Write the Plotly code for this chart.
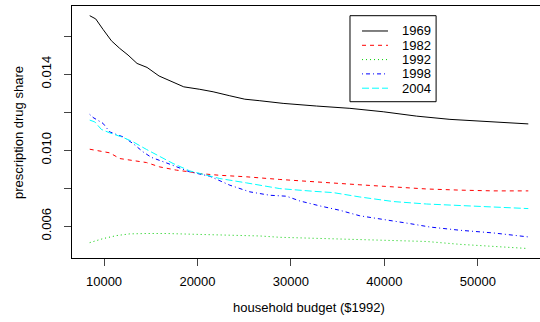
import plotly.graph_objects as go

# ---- data ----
budget_1969 = [8469, 9111, 9893, 10792, 11681, 12570, 13533, 14604, 15889, 17217, 18534, 20247,
               21671, 23459, 25065, 26671, 29166, 32742, 36307, 39873, 43449, 47015, 50580, 55398]
share_1969 = [0.01707, 0.01690, 0.01635, 0.01575, 0.01535, 0.01500, 0.01456, 0.01435, 0.01390,
              0.01363, 0.01333, 0.01320, 0.01307, 0.01286, 0.01268, 0.01260, 0.01246, 0.01232,
              0.01220, 0.01202, 0.01179, 0.01162, 0.01151, 0.01138]

budget_1982 = [8469, 9540, 10610, 11681, 13105, 14540, 15964, 17752, 19176, 20247, 22388, 25247,
               28812, 32378, 37378, 40943, 44519, 48085, 51650, 55398]
share_1982 = [0.01005, 0.00996, 0.00986, 0.00956, 0.00944, 0.00935, 0.00912, 0.00895, 0.00886,
              0.00877, 0.00868, 0.00860, 0.00846, 0.00833, 0.00818, 0.00807, 0.00796, 0.00790,
              0.00786, 0.00786]

budget_1992 = [8469, 9893, 11328, 12752, 14540, 16681, 19529, 23105, 26671, 28812, 32378, 37378,
               40943, 44519, 48085, 51650, 55398]
share_1992 = [0.00514, 0.00535, 0.00551, 0.00560, 0.00562, 0.00562, 0.00558, 0.00553, 0.00549,
              0.00542, 0.00537, 0.00530, 0.00526, 0.00520, 0.00505, 0.00495, 0.00483]

budget_1998 = [8469, 8822, 9893, 10610, 12034, 13105, 14176, 15075, 16681, 18105, 19176, 21317,
               23459, 25600, 27741, 29529, 30953, 33094, 35235, 37378, 40590, 42731, 44873,
               48085, 51650, 55398]
share_1998 = [0.01188, 0.01172, 0.01141, 0.01096, 0.01070, 0.01035, 0.00991, 0.00962, 0.00933,
              0.00904, 0.00886, 0.00863, 0.00816, 0.00781, 0.00763, 0.00758, 0.00733, 0.00707,
              0.00684, 0.00655, 0.00632, 0.00614, 0.00596, 0.00579, 0.00565, 0.00544]

budget_2004 = [8469, 9004, 9722, 10610, 12034, 13105, 14540, 15964, 17388, 19176, 20247, 22388,
               25247, 28812, 32378, 34520, 37378, 40943, 44519, 48085, 51650, 55398]
share_2004 = [0.01158, 0.01149, 0.01109, 0.01091, 0.01067, 0.01044, 0.01004, 0.00965, 0.00930,
              0.00891, 0.00877, 0.00851, 0.00828, 0.00798, 0.00784, 0.00777, 0.00754, 0.00730,
              0.00717, 0.00709, 0.00702, 0.00693]

years = ["1969", "1982", "1992", "1998", "2004"]
x_ticks = [10000, 20000, 30000, 40000, 50000]
y_ticks = [0.006, 0.008, 0.010, 0.012, 0.014, 0.016]
y_ticklabels = ["0.006", "", "0.010", "", "0.014", ""]
x_title = "household budget ($1992)"
y_title = "prescription drug share"

# ---- styles ----
colors = ["#000000", "#FF0000", "#00CD00", "#0000FF", "#00FFFF"]
dashes = ["solid", "4px,4px", "1px,3px", "1px,3px,4px,3px", "7px,3px"]
FONT = "Liberation Sans, Arial, Helvetica, sans-serif"

series = [(budget_1969, share_1969), (budget_1982, share_1982), (budget_1992, share_1992),
          (budget_1998, share_1998), (budget_2004, share_2004)]

fig = go.Figure()
for (bx, sy), name, c, d in zip(series, years, colors, dashes):
    fig.add_trace(go.Scatter(x=bx, y=sy, mode="lines", name=name,
                             line=dict(color=c, width=1, dash=d), showlegend=False))

# manual legend (R-style)
L, R = 0.594, 0.778
fig.add_shape(type="rect", xref="paper", yref="paper", x0=L, x1=R, y0=0.6202, y1=0.9615,
              line=dict(color="#000000", width=1), fillcolor="white", layer="above")
row_y = [0.9008, 0.8440, 0.7873, 0.7306, 0.6738]
for name, c, d, ry in zip(years, colors, dashes, row_y):
    fig.add_shape(type="line", xref="paper", yref="paper", x0=0.6197, x1=0.6752, y0=ry, y1=ry,
                  line=dict(color=c, width=1, dash=d), layer="above")
    fig.add_annotation(text=name, xref="paper", yref="paper", x=0.7009, y=ry,
                       xanchor="left", yanchor="middle", showarrow=False,
                       font=dict(family=FONT, size=13, color="#000000"))

# axis titles (R-style placement)
fig.add_annotation(text=x_title, xref="paper", yref="paper", x=0.5064, y=-0.1984,
                   xanchor="center", yanchor="middle", showarrow=False,
                   font=dict(family=FONT, size=13, color="#000000"))
fig.add_annotation(text=y_title, xref="paper", yref="paper", x=-0.1154, y=0.5,
                   xanchor="center", yanchor="middle", textangle=-90, showarrow=False,
                   font=dict(family=FONT, size=13, color="#000000"))

fig.update_layout(
    width=540, height=322,
    margin=dict(l=72, r=0, t=6, b=64, autoexpand=False),
    paper_bgcolor="white", plot_bgcolor="white",
    font=dict(family=FONT, size=13, color="#000000"),
    showlegend=False,
    xaxis=dict(range=[6574, 56650], tickvals=x_ticks, ticktext=[str(v) for v in x_ticks],
               automargin=False, ticklabelstandoff=4,
               ticks="outside", ticklen=7, tickcolor="#444444", tickwidth=1,
               showline=True, linecolor="#000000", linewidth=1, mirror=True,
               showgrid=False, zeroline=False),
    yaxis=dict(range=[0.004332, 0.017579], tickvals=y_ticks, ticktext=y_ticklabels,
               tickangle=-90, automargin=False, ticklabelstandoff=8,
               ticks="outside", ticklen=7, tickcolor="#444444", tickwidth=1,
               showline=True, linecolor="#000000", linewidth=1, mirror=False,
               showgrid=False, zeroline=False),
)

fig.write_html("out.html", config={"displayModeBar": False},
               post_script="document.body.style.margin='0';document.body.style.overflow='hidden';")
